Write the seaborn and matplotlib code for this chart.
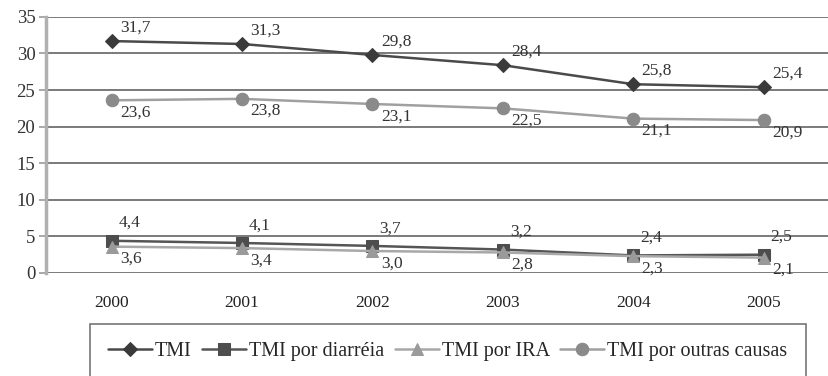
import numpy as np
import matplotlib
matplotlib.use("Agg")
import matplotlib.pyplot as plt
import seaborn as sns

# Data
years = ["2000", "2001", "2002", "2003", "2004", "2005"]
tmi = [31.7, 31.3, 29.8, 28.4, 25.8, 25.4]
tmi_diarreia = [4.4, 4.1, 3.7, 3.2, 2.4, 2.5]
tmi_ira = [3.6, 3.4, 3.0, 2.8, 2.3, 2.1]
tmi_outras = [23.6, 23.8, 23.1, 22.5, 21.1, 20.9]
series_names = ["TMI", "TMI por diarréia", "TMI por IRA", "TMI por outras causas"]

sns.set_style("white")
plt.rcParams["font.family"] = ["Liberation Serif", "DejaVu Serif"]

fig = plt.figure(figsize=(8.29, 3.76), dpi=100)
ax = fig.add_axes([0.056, 0.274, 0.944, 0.681])

x = np.arange(len(years))

# series: values, marker, marker color, line color, marker size, label offset (points)
styles = [
    (tmi, "D", "#3a3a3a", "#4a4a4a", 7, (6, 4), "bottom"),
    (tmi_diarreia, "s", "#4d4d4d", "#555555", 8, (5, 7), "bottom"),
    (tmi_ira, "^", "#9a9a9a", "#a8a8a8", 8, (6, -3), "top"),
    (tmi_outras, "o", "#8a8a8a", "#a0a0a0", 9, (6, -3), "top"),
]

for name, (vals, mk, mc, lc, ms, off, va) in zip(series_names, styles):
    sns.lineplot(x=x, y=vals, ax=ax, color=lc, marker=mk, markersize=ms,
                 markerfacecolor=mc, markeredgecolor=mc, linewidth=1.8,
                 label=name, legend=False)
    for xi, v in zip(x, vals):
        ax.annotate(f"{v:.1f}".replace(".", ","), (xi, v), xytext=off,
                    textcoords="offset points", ha="left", va=va,
                    fontsize=12.5, color="#333333")

ax.set_ylim(0, 35)
ax.set_yticks(np.arange(0, 36, 5))
ax.set_xlim(-0.5, 5.5)
ax.set_xticks(x)
ax.set_xticklabels(years)
ax.set_xticks(np.arange(0.5, 5.5, 1), minor=True)
ax.tick_params(axis="x", which="major", length=0, pad=16, labelsize=12.5,
               colors="#222222")
ax.tick_params(axis="x", which="minor", length=5, width=1.2, color="#555555",
               direction="out")
ax.tick_params(axis="y", length=5, width=1.2, color="#999999", labelsize=13.5,
               labelcolor="#333333", pad=3, left=True)
ax.grid(axis="y", color="#7a7a7a", linewidth=1.4)
ax.set_axisbelow(True)
for s in ["top", "right"]:
    ax.spines[s].set_visible(False)
ax.spines["bottom"].set_visible(False)
ax.spines["left"].set_color("#b0b0b0")
ax.spines["left"].set_linewidth(2.5)

handles, labels = ax.get_legend_handles_labels()
leg = fig.legend(handles, labels, loc="center", bbox_to_anchor=(0.54, 0.065),
                 ncol=4, fontsize=14.5, frameon=True, fancybox=False,
                 edgecolor="#555555", handlelength=2.2, handletextpad=0.15,
                 columnspacing=0.5, borderpad=0.9, borderaxespad=0)
leg.get_frame().set_linewidth(1.2)

plt.savefig("out.png", dpi=100)
